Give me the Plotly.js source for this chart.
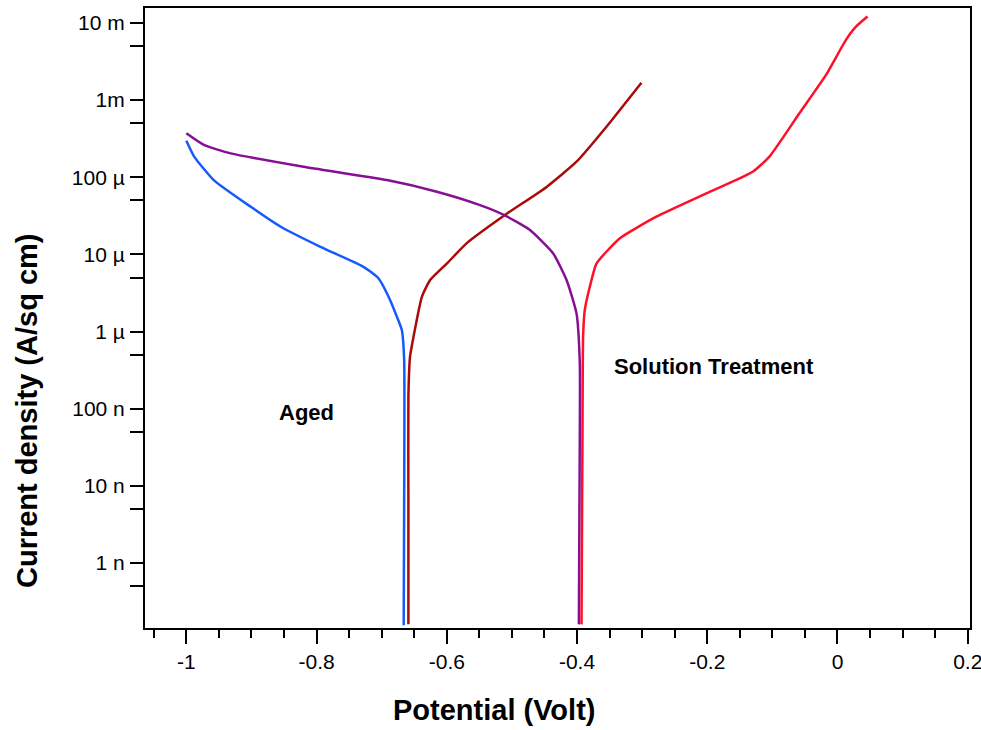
<!DOCTYPE html>
<html>
<head>
<meta charset="utf-8">
<script src="https://cdn.plot.ly/plotly-3.0.1.min.js"></script>
<style>
  html, body { margin: 0; padding: 0; background: #fff; }
  #chart { width: 981px; height: 730px; }
</style>
</head>
<body>
<div id="chart"></div>
<script>
// Polarization curves: potential (V) vs current density (A/sq cm)

// Aged, cathodic branch
const agedCathodicV = [-1.000, -0.988, -0.958, -0.901, -0.855, -0.794, -0.728, -0.705, -0.687, -0.6766, -0.669, -0.6655, -0.6655, -0.6662];
const agedCathodicI = [2.97e-4, 1.85e-4, 9.2e-5, 4.14e-5, 2.28e-5, 1.25e-5, 6.9e-6, 4.9e-6, 2.55e-6, 1.55e-6, 1.04e-6, 4.25e-7, 6.5e-9, 1.56e-10];

// Aged, anodic branch
const agedAnodicV = [-0.659, -0.659, -0.659, -0.6565, -0.6512, -0.6383, -0.6256, -0.600, -0.5693, -0.5107, -0.4467, -0.4008, -0.3548, -0.3011];
const agedAnodicI = [1.6e-10, 6.5e-9, 1.42e-7, 4.7e-7, 8.5e-7, 2.82e-6, 4.65e-6, 7.6e-6, 1.40e-5, 3.24e-5, 7.5e-5, 1.59e-4, 4.52e-4, 1.68e-3];

// Solution treatment, cathodic branch
const stCathodicV = [-1.000, -0.973, -0.932, -0.820, -0.692, -0.6153, -0.549, -0.5133, -0.4723, -0.4366, -0.4161, -0.4008, -0.3957, -0.3957, -0.3972];
const stCathodicI = [3.71e-4, 2.62e-4, 2.04e-4, 1.37e-4, 9.2e-5, 6.5e-5, 4.36e-5, 3.28e-5, 2.07e-5, 1.03e-5, 4.65e-6, 1.72e-6, 3.86e-7, 5.26e-8, 1.6e-10];

// Solution treatment, anodic branch
const stAnodicV = [-0.3931, -0.3916, -0.3907, -0.3881, -0.3804, -0.3701, -0.3346, -0.2782, -0.2015, -0.1301, -0.1045, -0.0585, -0.0176, 0.0130, 0.0284, 0.0461];
const stAnodicI = [1.6e-10, 5.26e-8, 8.5e-7, 1.9e-6, 3.8e-6, 7.6e-6, 1.61e-5, 3.08e-5, 6.18e-5, 1.18e-4, 1.85e-4, 6.74e-4, 2.12e-3, 6.03e-3, 8.95e-3, 1.21e-2];

// Current density ticks (labelled decades and unlabelled half-decade marks)
const yTickVals = [5e-10, 1e-9, 5e-9, 1e-8, 5e-8, 1e-7, 5e-7, 1e-6, 5e-6, 1e-5, 5e-5, 1e-4, 5e-4, 1e-3, 5e-3, 1e-2];
const yTickText = ['', '1 n', '', '10 n', '', '100 n', '', '1 µ', '', '10 µ', '', '100 µ', '', '1m', '', '10 m'];

const xTickVals = [-1, -0.8, -0.6, -0.4, -0.2, 0, 0.2];
const xTickText = ['-1', '-0.8', '-0.6', '-0.4', '-0.2', '0', '0.2'];

const FONT = 'Arial, "Liberation Sans", sans-serif';

function curve(x, y, color) {
  return {
    x: x, y: y, type: 'scatter', mode: 'lines',
    line: { color: color, width: 2.5, shape: 'spline', smoothing: 0.5 },
    hoverinfo: 'x+y', showlegend: false
  };
}

const data = [
  curve(agedCathodicV, agedCathodicI, 'rgb(20,90,255)'),
  curve(agedAnodicV, agedAnodicI, 'rgb(170,10,10)'),
  curve(stCathodicV, stCathodicI, 'rgb(135,15,150)'),
  curve(stAnodicV, stAnodicI, 'rgb(255,15,40)')
];

const layout = {
  width: 981, height: 730,
  margin: { l: 145, r: 11, t: 8, b: 102 },
  paper_bgcolor: '#fff', plot_bgcolor: '#fff',
  font: { family: FONT, color: '#000', size: 16 },
  xaxis: {
    range: [-1.0635, 0.2035],
    tickmode: 'array', tickvals: xTickVals, ticktext: xTickText,
    ticks: 'outside', ticklen: 14, tickwidth: 2, tickcolor: '#000',
    minor: { tickmode: 'linear', tick0: 0, dtick: 0.05, ticks: 'outside', ticklen: 8, tickwidth: 2, tickcolor: '#000', showgrid: false },
    showline: true, linecolor: '#000', linewidth: 2, mirror: true,
    showgrid: false, zeroline: false,
    ticklabeloverflow: 'allow',
    ticklabelstandoff: 0,
    tickfont: { family: FONT, size: 21, color: '#000' }
  },
  yaxis: {
    type: 'log',
    range: [-9.843, -1.806],
    tickmode: 'array', tickvals: yTickVals, ticktext: yTickText,
    ticks: 'outside', ticklen: 13, tickwidth: 2, tickcolor: '#000',
    showline: true, linecolor: '#000', linewidth: 2, mirror: true,
    showgrid: false, zeroline: false,
    ticklabeloverflow: 'allow',
    ticklabelstandoff: 1,
    tickfont: { family: FONT, size: 21, color: '#000' }
  },
  annotations: [
    { text: '<b>Current density (A/sq cm)</b>', textangle: -90,
      xref: 'paper', yref: 'paper', x: -0.143, y: 0.35,
      xanchor: 'center', yanchor: 'middle', showarrow: false,
      font: { family: FONT, size: 29, color: '#000' } },
    { text: '<b>Potential (Volt)</b>',
      xref: 'paper', yref: 'paper', x: 0.423, y: -0.132,
      xanchor: 'center', yanchor: 'middle', showarrow: false,
      font: { family: FONT, size: 29, color: '#000' } },
    { text: '<b>Aged</b>', xref: 'paper', yref: 'paper',
      x: 0.196, y: 0.348, xanchor: 'center', yanchor: 'middle', showarrow: false,
      font: { family: FONT, size: 22, color: '#000' } },
    { text: '<b>Solution Treatment</b>', xref: 'paper', yref: 'paper',
      x: 0.69, y: 0.422, xanchor: 'center', yanchor: 'middle', showarrow: false,
      font: { family: FONT, size: 22, color: '#000' } }
  ]
};

Plotly.newPlot('chart', data, layout, { displayModeBar: false, staticPlot: true });
</script>
</body>
</html>
